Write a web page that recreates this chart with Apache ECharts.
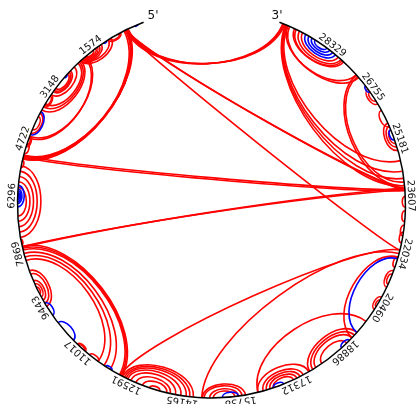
<!DOCTYPE html>
<html>
<head>
<meta charset="utf-8">
<script src="https://cdn.jsdelivr.net/npm/echarts@6.0.0/dist/echarts.min.js"></script>
<style>
  html, body { margin: 0; padding: 0; background: #ffffff; }
  #chart { width: 417px; height: 404px; }
</style>
</head>
<body>
<div id="chart"></div>
<script>
// Genome length and the numbered positions printed around the circle.
const seqLength = 29903;
const tickValues = [1574, 3148, 4722, 6296, 7869, 9443, 11017, 12591, 14165,
                    15738, 17312, 18886, 20460, 22034, 23607, 25181, 26755, 28329];
const endLabels = [['5\'', -300], ['3\'', 30025]];

// Base pairs [i, j] drawn in red.
const redPairs = [
  [470, 29740], [500, 29770], [540, 29800],
  [510, 23830], [530, 23790], [560, 22100],
  [480, 5150], [500, 5200], [520, 5240], [545, 5180], [590, 5260],
  [700, 1100], [750, 1050],
  [1000, 2050], [1100, 1980], [1330, 2050], [1400, 2000], [1460, 1950], [1520, 1890], [1600, 1850],
  [2050, 3800], [2100, 3700], [2150, 3600],
  [1850, 4600], [1900, 4650],
  [2300, 3300], [2450, 3200], [2500, 3150], [2560, 3090], [3300, 3700], [3350, 3650],
  [3900, 4500], [4000, 4400], [4600, 4900], [4650, 4850],
  [5150, 23800], [5200, 23760],
  [4800, 5100], [5300, 5500],
  [5450, 7450], [5600, 7300], [5750, 7150], [5900, 7000], [6050, 6850],
  [7700, 23790], [7720, 23830],
  [7700, 12380], [7750, 12340], [7800, 12300], [7900, 12000], [8000, 11800], [8100, 11600],
  [7500, 7650],
  [8400, 9500], [8500, 9400], [8700, 9300], [8800, 9200], [8900, 9100],
  [10850, 11150], [10900, 11100], [11300, 11600],
  [12330, 22100],
  [12400, 14450], [12450, 14350], [12500, 14250], [12550, 14100], [12650, 13950],
  [12800, 13800], [13000, 13700], [13200, 13500],
  [14680, 22000], [14700, 15900], [14750, 15800], [14900, 15700], [15000, 15600],
  [16250, 17780], [16400, 17600], [16500, 17500], [16600, 17400], [16700, 17300],
  [16250, 19900],
  [17800, 19500], [17900, 19400], [18000, 19300], [18200, 19100],
  [19300, 21900], [20300, 20700], [20400, 20600], [21000, 21500], [21100, 21400],
  [21600, 21900],
  [22300, 22600], [22500, 22800], [22900, 23200], [23300, 23600],
  [23900, 27300], [24000, 27250], [24900, 25700], [25000, 25600], [25100, 25500],
  [25600, 26100], [26300, 26800], [26400, 26700],
  [23900, 29720], [24100, 29700], [24300, 29680], [24600, 29650], [27300, 29650], [27200, 29600],
  [27800, 29400], [27850, 29450], [27900, 29300], [28000, 29200]
];

// Base pairs [i, j] drawn in blue.
const bluePairs = [
  [170, 235], [190, 270], [1150, 1250], [2600, 2700], [3850, 4550],
  [6000, 6600], [6100, 6500], [6150, 6450], [6200, 6400], [6250, 6350],
  [9400, 9800], [10050, 10700], [11850, 12050], [15250, 15700], [16700, 17000],
  [18900, 19200], [19500, 21850],
  [25200, 25500], [26700, 26900],
  [28100, 29100], [28200, 29000], [28300, 28900], [28400, 28800]
];

// Empty stretch of the circle left open between the 3' and 5' ends.
const gapBefore = 1921;
const gapAfter = 1922;

const chart = echarts.init(document.getElementById('chart'), null, { renderer: 'canvas' });

// A pair is drawn as a cubic curve that leaves the rim radially at both ends.
// The bow (depth over half-chord) shrinks as the pair spans more of the circle,
// so near-opposite pairs become almost straight chords.
function renderPair(color) {
  return function (params, api) {
    const i = api.value(0);
    const j = api.value(1);
    const p1 = api.coord([1, i]);
    const p2 = api.coord([1, j]);
    const c = api.coord([0, i]);
    const v1x = p1[0] - c[0], v1y = p1[1] - c[1];
    const v2x = p2[0] - c[0], v2y = p2[1] - c[1];
    const r2 = v1x * v1x + v1y * v1y;
    const cosD = Math.max(-1, Math.min(1, (v1x * v2x + v1y * v2y) / r2));
    const half = Math.max(1e-4, Math.acos(cosD) / 2);
    const bow = Math.max(0.03, 0.58 * Math.cos(Math.min(1.5 * half, Math.PI / 2)));
    const h = Math.min(0.95, bow * Math.tan(half) / 0.75);
    const c1 = api.coord([1 - h, i]);
    const c2 = api.coord([1 - h, j]);
    return {
      type: 'bezierCurve',
      shape: {
        x1: p1[0], y1: p1[1], x2: p2[0], y2: p2[1],
        cpx1: c1[0], cpy1: c1[1], cpx2: c2[0], cpy2: c2[1]
      },
      style: { stroke: color, fill: 'none', lineWidth: 1.6 },
      silent: true
    };
  };
}

function renderRim(params, api) {
  const cs = params.coordSys;
  const a = api.coord([1, api.value(0)]);
  const b = api.coord([1, api.value(1)]);
  const start = Math.atan2(a[1] - cs.cy, a[0] - cs.cx);
  const end = Math.atan2(b[1] - cs.cy, b[0] - cs.cx);
  return {
    type: 'arc',
    shape: { cx: cs.cx, cy: cs.cy, r: cs.r, startAngle: start, endAngle: end, clockwise: false },
    style: { stroke: '#000000', fill: 'none', lineWidth: 1.5 },
    silent: true
  };
}

function renderTick(params, api) {
  const cs = params.coordSys;
  const v = api.value(0);
  const pt = api.coord([1.028, v]);
  const phi = Math.atan2(-(pt[1] - cs.cy), pt[0] - cs.cx);
  return {
    type: 'text',
    x: pt[0], y: pt[1],
    rotation: phi - Math.PI / 2,
    style: {
      text: String(v), fill: '#111111',
      font: '10px "DejaVu Sans"', align: 'center', verticalAlign: 'middle'
    },
    silent: true
  };
}

function renderEnd(params, api) {
  const idx = params.dataIndex;
  const pt = api.coord([idx === 0 ? 1.015 : 1.026, endLabels[idx][1]]);
  return {
    type: 'text',
    x: pt[0], y: pt[1],
    style: {
      text: endLabels[idx][0], fill: '#111111',
      font: '12px "DejaVu Sans"', align: 'center', verticalAlign: 'middle'
    },
    silent: true
  };
}

chart.setOption({
  animation: false,
  backgroundColor: '#ffffff',
  polar: { center: [211.5, 204], radius: 194 },
  radiusAxis: { show: false, type: 'value', min: 0, max: 1 },
  angleAxis: {
    show: false, type: 'value', min: -gapBefore, max: seqLength + gapAfter,
    startAngle: 90, clockwise: false
  },
  series: [
    { type: 'custom', coordinateSystem: 'polar', renderItem: renderPair('#ff0000'),
      data: redPairs, clip: false, z: 2 },
    { type: 'custom', coordinateSystem: 'polar', renderItem: renderPair('#0000ff'),
      data: bluePairs, clip: false, z: 3 },
    { type: 'custom', coordinateSystem: 'polar', renderItem: renderRim,
      data: [[0, seqLength]], clip: false, z: 4 },
    { type: 'custom', coordinateSystem: 'polar', renderItem: renderTick,
      data: tickValues.map(function (v) { return [v]; }), clip: false, z: 5 },
    { type: 'custom', coordinateSystem: 'polar', renderItem: renderEnd,
      data: endLabels.map(function (e) { return [e[1]]; }), clip: false, z: 5 }
  ]
});
</script>
</body>
</html>
